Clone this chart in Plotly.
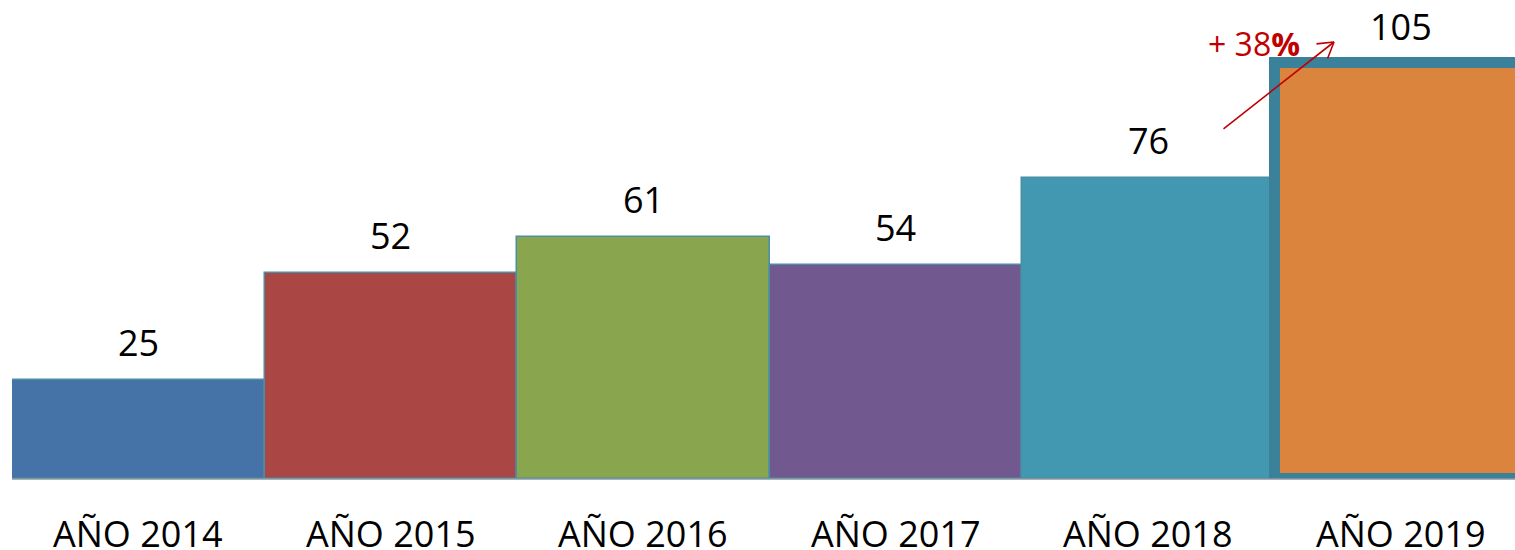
import plotly.graph_objects as go

categories = ["AÑO 2014", "AÑO 2015", "AÑO 2016", "AÑO 2017", "AÑO 2018", "AÑO 2019"]
values = [25, 52, 61, 54, 76, 105]
colors = ["#4572a7", "#aa4643", "#89a54e", "#71588f", "#4298b0", "#db843d"]
growth_label = "+ 38<b>%</b>"

W, H = 1515, 550
left = 12
plot_bottom = 479
bottom = H - plot_bottom
bar_px = 252.5
px_per_unit = 3.96
plot_w = W - left
plot_h = H - bottom

xs = list(range(len(categories)))
line_colors = ["#4a8ea6"] * (len(values) - 1) + ["#3a8199"]
line_widths = [1.5] * (len(values) - 1) + [11]

fig = go.Figure()
fig.add_trace(go.Bar(
    x=xs, y=values, width=1.0,
    marker=dict(color=colors, line=dict(color=line_colors, width=line_widths)),
    hoverinfo="skip",
))

font = "Open Sans, Lato, sans-serif"
ann = []
for x, v in zip(xs, values):
    ann.append(dict(x=x, y=v, xref="x", yref="y", text=str(v), showarrow=False,
                    yanchor="middle", yshift=38 if v < 100 else 37,
                    font=dict(family=font, size=36, color="#000000")))
for x, c in zip(xs, categories):
    ann.append(dict(x=x, y=0, xref="x", yref="paper", text=c, showarrow=False,
                    yanchor="middle", yshift=-54,
                    font=dict(family=font, size=36, color="#000000")))

def to_x(px):
    return -0.5 + (px - left) / bar_px

def to_y(py):
    return (plot_bottom - py) / px_per_unit

# growth arrow: shaft plus two open barbs
head_x, head_y = to_x(1334), to_y(42)
for ax, ay in [(-112, 88), (-19, 2), (-7, 18)]:
    ann.append(dict(x=head_x, y=head_y, xref="x", yref="y", ax=ax, ay=ay,
                    showarrow=True, arrowhead=0, arrowwidth=1.6,
                    arrowcolor="#c00000", text=""))
ann.append(dict(x=to_x(1254), y=to_y(43), xref="x", yref="y", text=growth_label,
                showarrow=False, yanchor="middle",
                font=dict(family=font, size=32, color="#c00000")))

fig.update_layout(
    width=W, height=H,
    margin=dict(l=left, r=0, t=0, b=bottom),
    paper_bgcolor="white", plot_bgcolor="rgba(0,0,0,0)",
    bargap=0, showlegend=False,
    annotations=ann,
    xaxis=dict(range=[-0.5, -0.5 + plot_w / bar_px], showticklabels=False,
               showgrid=False, zeroline=False, showline=False, ticks=""),
    yaxis=dict(range=[0, plot_h / px_per_unit], showticklabels=False,
               showgrid=False, zeroline=False, showline=False, ticks=""),
    shapes=[dict(type="line", xref="paper", yref="paper", x0=0, x1=1, y0=0, y1=0,
                 line=dict(color="#8a9aa0", width=1.5), layer="above")],
)

fig.write_html(
    "out.html",
    config={"displayModeBar": False},
    post_script="document.body.style.margin='0';document.body.style.overflow='hidden';",
)
